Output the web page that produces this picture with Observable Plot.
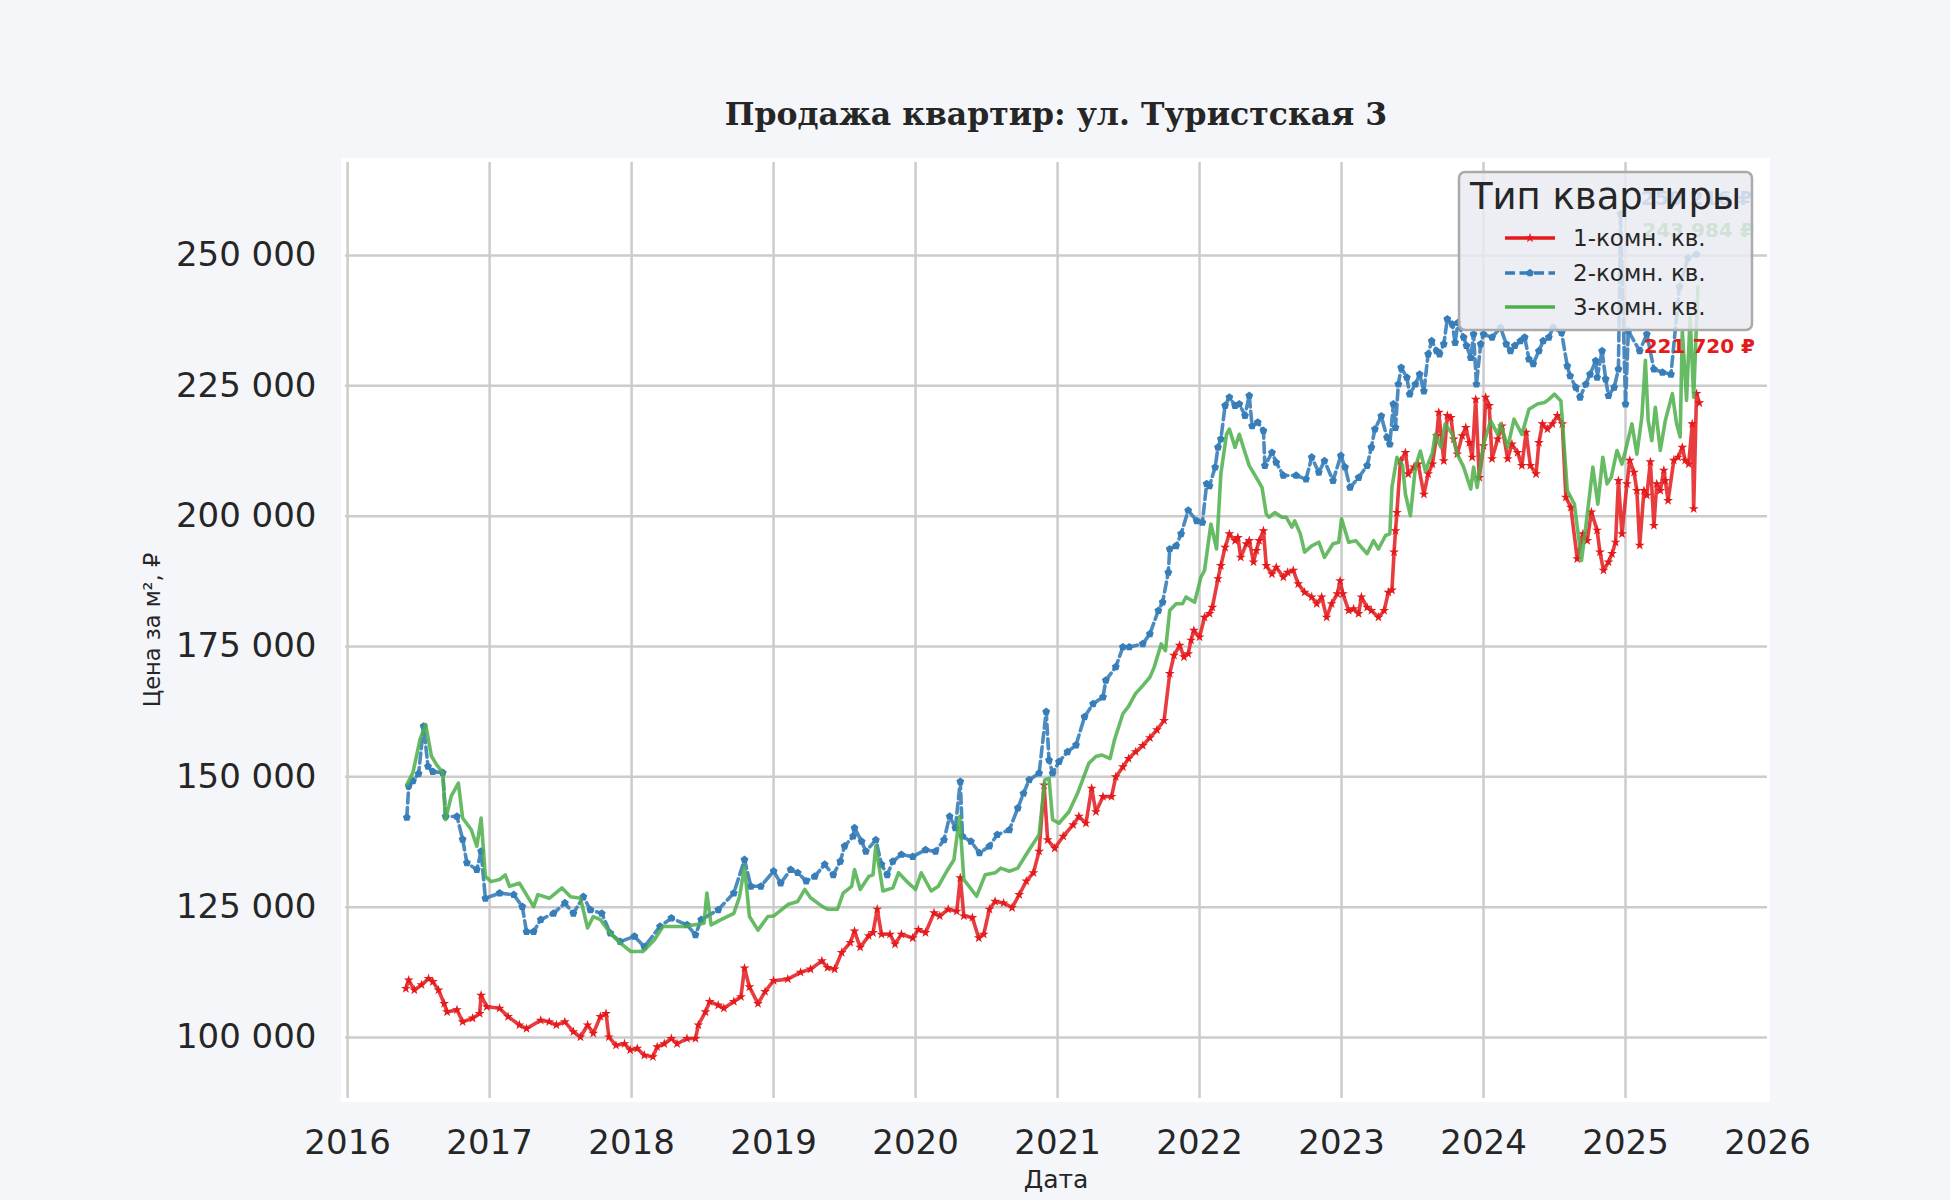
<!DOCTYPE html>
<html><head><meta charset="utf-8">
<script src="https://cdn.jsdelivr.net/npm/d3@7"></script>
<script src="https://cdn.jsdelivr.net/npm/@observablehq/plot@0.6"></script>
<style>
html,body{margin:0;padding:0;background:#f5f6fa;}
#fig{position:relative;width:1950px;height:1200px;background:#f5f6fa;font-family:"DejaVu Sans";overflow:hidden;}
#panel{position:absolute;left:341px;top:158px;width:1429px;height:944px;background:#ffffff;}
#chart{position:absolute;left:0;top:0;}
#overlay{position:absolute;left:0;top:0;}
</style></head>
<body><div id="fig"><div id="panel"></div><div id="chart"></div><svg id="overlay" width="1950" height="1200"></svg></div>
<script>
// ---------- texts ----------
const titleText = "Продажа квартир: ул. Туристская 3";
const xLabel = "Дата";
const yLabel = "Цена за м², ₽";
const legendTitle = "Тип квартиры";
const seriesNames = ["1-комн. кв.", "2-комн. кв.", "3-комн. кв."];
const seriesColors = ["#e41a1c", "#377eb8", "#4daf4a"];
const xTicks = [2016, 2017, 2018, 2019, 2020, 2021, 2022, 2023, 2024, 2025, 2026];
const yTicks = [100000, 125000, 150000, 175000, 200000, 225000, 250000];

// ---------- 1-комн. кв. ----------
const years1 = [2016.41,2016.43,2016.47,2016.52,2016.57,2016.60,2016.64,2016.68,2016.70,2016.77,2016.81,2016.88,2016.93,2016.94,2016.98,
2017.07,2017.13,2017.21,2017.26,2017.36,2017.42,2017.47,2017.53,2017.59,2017.64,2017.69,2017.73,2017.78,2017.82,2017.84,2017.89,2017.95,2017.99,
2018.04,2018.09,2018.15,2018.18,2018.23,2018.28,2018.32,2018.39,2018.45,2018.47,2018.52,2018.55,2018.61,2018.65,2018.72,2018.77,2018.795,2018.83,2018.89,2018.94,
2019.00,2019.10,2019.19,2019.26,2019.34,2019.38,2019.43,2019.48,2019.54,2019.57,2019.61,2019.67,2019.70,2019.73,2019.76,2019.82,2019.855,2019.90,2019.98,
2020.02,2020.07,2020.13,2020.17,2020.23,2020.29,2020.315,2020.34,2020.40,2020.445,2020.48,2020.52,2020.56,2020.62,2020.68,2020.73,2020.78,2020.83,2020.87,2020.905,2020.93,2020.98,
2021.04,2021.11,2021.15,2021.20,2021.24,2021.27,2021.32,2021.38,2021.41,2021.46,2021.50,2021.55,2021.60,2021.65,2021.70,2021.75,2021.79,2021.82,2021.86,2021.89,2021.92,2021.94,2021.96,
2022.00,2022.035,2022.07,2022.09,2022.13,2022.15,2022.18,2022.21,2022.25,2022.27,2022.29,2022.33,2022.35,2022.38,2022.40,2022.42,2022.45,2022.47,2022.51,2022.54,2022.59,2022.62,2022.66,2022.695,2022.74,2022.79,2022.825,2022.86,2022.895,2022.93,2022.97,2022.99,
2023.01,2023.05,2023.085,2023.12,2023.14,2023.18,2023.21,2023.26,2023.30,2023.33,2023.355,2023.37,2023.38,2023.39,2023.415,2023.45,2023.47,2023.51,2023.54,2023.58,2023.61,2023.64,2023.67,2023.685,2023.72,2023.745,2023.77,2023.79,2023.815,2023.85,2023.875,2023.90,2023.92,2023.945,2023.97,
2024.00,2024.015,2024.04,2024.06,2024.10,2024.13,2024.17,2024.20,2024.24,2024.27,2024.30,2024.33,2024.37,2024.39,2024.415,2024.45,2024.485,2024.52,2024.555,2024.58,2024.615,2024.66,2024.70,2024.73,2024.76,2024.80,2024.82,2024.845,2024.88,2024.905,2024.93,2024.95,2024.975,
2025.01,2025.03,2025.06,2025.08,2025.10,2025.13,2025.15,2025.175,2025.20,2025.22,2025.245,2025.27,2025.28,2025.30,2025.34,2025.37,2025.40,2025.42,2025.445,2025.47,2025.48,2025.50,2025.52];
const price1 = [109400,111000,109100,110100,111300,110700,109100,106500,104900,105300,103000,103700,104600,108100,105900,
105600,104000,102400,101700,103300,103000,102400,103000,101100,100100,102400,100800,104000,104600,100100,98500,98800,97600,
97900,96600,96300,98200,98800,99800,98800,99800,99800,102400,104900,106900,106200,105600,106900,107800,113300,109700,106500,108800,
110900,111200,112500,113100,114700,113400,113100,116300,118200,120400,117300,119500,120100,124600,119800,119800,117900,119800,119100,
120700,120100,123900,123300,124600,124200,130600,123300,123000,119100,119800,124600,126100,125800,124900,127400,130000,131600,135700,148400,137900,136300,
138600,140800,142400,141100,147800,143300,146200,146200,150000,151900,153500,154800,156000,157500,159000,160800,169800,173300,175200,173000,173600,176200,178100,
176800,180600,181300,182500,188000,190500,194000,196600,195300,195900,192100,194700,195300,191200,193400,195300,197200,190500,188900,190200,188300,189200,189600,187000,185400,184500,183200,184500,180600,183200,185100,187600,
185100,181900,182200,181300,184500,182500,181900,180600,181900,185400,185800,193100,197200,200700,210600,212200,208100,209400,210000,204200,208100,210000,215400,219900,210600,219300,218900,214800,211900,215400,217000,214100,211300,222400,207400,
213500,222800,221200,211000,214800,217300,211000,213800,212200,209700,216100,209700,208100,214100,217700,216700,217700,219300,217700,203600,201700,191800,196600,195300,200800,197300,193100,189600,191200,192800,195000,206800,196600,
206200,210700,208400,204900,194400,204900,204000,210400,198200,206200,204900,208800,206800,203000,210700,211300,213200,210700,210000,217700,201400,223500,221720];

// ---------- 2-комн. кв. ----------
const years2 = [2016.417,2016.43,2016.46,2016.50,2016.535,2016.566,2016.60,2016.67,2016.69,2016.77,2016.81,2016.84,2016.91,2016.94,2016.97,
2017.07,2017.17,2017.23,2017.26,2017.31,2017.36,2017.45,2017.53,2017.59,2017.66,2017.71,2017.79,2017.85,2017.92,
2018.02,2018.09,2018.20,2018.28,2018.39,2018.45,2018.49,2018.61,2018.72,2018.795,2018.84,2018.91,
2019.00,2019.05,2019.12,2019.17,2019.23,2019.29,2019.36,2019.42,2019.47,2019.50,2019.56,2019.57,2019.62,2019.65,2019.72,2019.76,2019.80,2019.84,2019.90,2019.98,
2020.07,2020.14,2020.20,2020.24,2020.28,2020.315,2020.33,2020.39,2020.45,2020.52,2020.575,2020.66,2020.72,2020.76,2020.80,2020.87,2020.92,2020.94,2020.965,
2021.01,2021.07,2021.13,2021.19,2021.25,2021.32,2021.34,2021.41,2021.46,2021.505,2021.60,2021.65,2021.71,2021.74,2021.78,2021.79,2021.835,2021.87,2021.92,2021.98,
2022.02,2022.05,2022.07,2022.11,2022.13,2022.15,2022.18,2022.21,2022.25,2022.28,2022.32,2022.35,2022.37,2022.41,2022.45,2022.46,2022.51,2022.54,2022.59,2022.68,2022.75,2022.79,2022.84,2022.88,2022.94,2022.995,
2023.025,2023.06,2023.12,2023.18,2023.21,2023.235,2023.28,2023.32,2023.34,2023.365,2023.38,2023.40,2023.42,2023.46,2023.48,2023.52,2023.55,2023.58,2023.61,2023.635,2023.67,2023.69,2023.72,2023.745,2023.78,2023.80,2023.82,2023.86,2023.88,2023.91,2023.93,2023.95,2023.98,
2024.00,2024.06,2024.12,2024.16,2024.19,2024.22,2024.26,2024.29,2024.32,2024.35,2024.39,2024.42,2024.46,2024.49,2024.55,2024.59,2024.61,2024.65,2024.68,2024.72,2024.75,2024.79,2024.80,2024.835,2024.86,2024.88,2024.92,2024.95,2024.965,
2025.00,2025.02,2025.10,2025.15,2025.20,2025.26,2025.32,2025.38,2025.44,2025.50];
const price2 = [142200,148200,149200,150600,159700,152000,151000,150800,142400,142400,138000,133500,132200,135700,126700,
127700,127400,125100,120300,120300,122600,123800,125800,123800,127000,124500,123800,120000,118400,
119400,117400,121300,122900,121600,119700,122600,124500,127700,134100,129000,129000,
131900,129600,132200,131600,130000,130900,133200,131200,133800,136700,138600,140200,137600,135700,137900,133200,131200,133800,135100,134700,
136000,135700,137900,142400,140200,149100,138600,137600,135400,136700,138900,139800,144000,146800,149400,150700,162500,153200,150700,
152900,154800,156100,161500,164000,165300,168500,171100,174900,174900,175500,177400,181900,183500,189200,193700,194300,196600,201100,199100,
198800,206200,205800,209400,213200,214800,221200,222800,221200,221500,219300,223100,217300,218000,216400,209700,212200,210300,207800,207800,207100,211300,208400,210600,206800,211600,
209400,205500,207400,209700,213200,216700,219200,215100,213800,221500,217000,225300,228500,226600,223400,225300,227200,224000,231100,233600,231700,231100,233000,237800,236800,233300,237100,234300,232700,230400,234900,225300,233000,
234900,234300,236200,233000,231700,232700,233600,234300,230100,229200,231700,233600,234300,236200,235200,228800,226900,224700,222800,225300,227200,229800,226600,231700,226300,223100,224700,228200,258000,
221500,235500,231700,234900,228200,227600,227200,244000,249500,250216];

// ---------- 3-комн. кв. ----------
const years3 = [2016.417,2016.46,2016.51,2016.55,2016.59,2016.625,2016.67,2016.69,2016.73,2016.78,2016.81,2016.87,2016.91,2016.94,2016.97,
2017.01,2017.07,2017.11,2017.14,2017.21,2017.31,2017.34,2017.42,2017.51,2017.57,2017.64,2017.69,2017.73,2017.78,2017.85,2017.92,2017.995,
2018.08,2018.16,2018.22,2018.37,2018.51,2018.53,2018.56,2018.63,2018.72,2018.76,2018.795,2018.83,2018.89,2018.96,
2019.00,2019.10,2019.17,2019.22,2019.26,2019.34,2019.38,2019.45,2019.49,2019.55,2019.57,2019.61,2019.67,2019.70,2019.72,2019.77,2019.84,2019.88,2019.95,
2020.00,2020.04,2020.11,2020.16,2020.22,2020.27,2020.31,2020.34,2020.43,2020.49,2020.56,2020.60,2020.66,2020.72,2020.80,2020.87,2020.91,2020.94,2020.965,
2021.01,2021.08,2021.14,2021.22,2021.27,2021.31,2021.37,2021.40,2021.46,2021.50,2021.55,2021.60,2021.65,2021.68,2021.73,2021.76,2021.79,2021.835,2021.88,2021.905,2021.965,
2022.01,2022.035,2022.08,2022.12,2022.15,2022.19,2022.21,2022.25,2022.28,2022.32,2022.35,2022.40,2022.44,2022.47,2022.49,2022.53,2022.58,2022.61,2022.65,2022.67,2022.71,2022.74,2022.79,2022.84,2022.88,2022.94,2022.98,
2023.00,2023.05,2023.10,2023.18,2023.225,2023.26,2023.31,2023.34,2023.355,2023.39,2023.43,2023.45,2023.485,2023.52,2023.555,2023.59,2023.64,2023.66,2023.70,2023.73,2023.78,2023.815,2023.86,2023.91,2023.93,2023.955,
2024.00,2024.05,2024.10,2024.12,2024.17,2024.215,2024.27,2024.32,2024.38,2024.43,2024.46,2024.50,2024.545,2024.59,2024.64,2024.69,2024.72,2024.77,2024.805,2024.84,2024.87,2024.90,2024.94,2024.975,
2025.00,2025.045,2025.08,2025.115,2025.14,2025.16,2025.185,2025.21,2025.245,2025.28,2025.33,2025.36,2025.385,2025.40,2025.43,2025.455,2025.48,2025.51];
const price3 = [148500,150800,157200,160000,154000,152400,150800,141800,146300,148800,142100,139900,136700,142100,130900,
129900,130300,131200,129000,129600,125100,127400,126700,128700,127000,126700,121000,123200,122600,120000,118100,116500,
116500,118700,121300,121300,121900,127700,121600,122600,123800,127000,132800,123200,120600,123200,
123300,125500,126100,128400,126800,125200,124600,124600,127700,129000,132200,128400,130900,131200,136700,128100,128700,131600,129600,
128400,131600,128100,129000,131900,134100,142400,130300,127100,131200,131600,132500,131900,132500,136000,138900,149400,149700,141800,
141100,143300,146800,152600,153900,154200,153500,157000,162100,163500,166000,167500,169100,171000,175500,174200,181900,183200,183200,184500,183500,
188300,189600,198500,193700,208100,215700,216700,213200,215700,212200,209700,207400,205500,200400,199800,200700,199800,199800,197900,199100,196600,193100,194300,195000,192100,194700,195000,
199500,195000,195300,192800,195300,193700,196300,196600,205500,211300,209700,204200,200100,209400,212500,208700,212200,215700,213200,217700,215700,211900,209400,205200,209400,205500,
213800,218300,215700,217700,213200,218600,215700,220500,221500,221800,222400,223400,222100,204900,202300,191500,197900,209400,202300,211300,206200,207500,212600,210000,
212600,217700,211900,219000,229900,218300,214500,220900,212600,218300,223500,217700,215200,235600,222200,238200,222800,243984];

// ---------- build ----------
const toRows = (xs, ys) => xs.map((x, i) => ({x, y: ys[i]}));
const rows1 = toRows(years1, price1);
const rows2 = toRows(years2, price2);
const rows3 = toRows(years3, price3);
const fmtNum = v => d3.format(",")(Math.round(v)).replace(/,/g, " ");
const lastOf = r => [r[r.length - 1]];

// pentagon marker (matplotlib "p")
const pentagon = {
  draw(ctx, size) {
    const R = Math.sqrt(size / 2.3776);
    for (let i = 0; i < 5; i++) {
      const a = -Math.PI / 2 + i * 2 * Math.PI / 5;
      const px = R * Math.cos(a), py = R * Math.sin(a);
      if (i) ctx.lineTo(px, py); else ctx.moveTo(px, py);
    }
    ctx.closePath();
  }
};

const GRID = "#cccccc";
const chart = Plot.plot({
  width: 1950, height: 1200,
  marginLeft: 345, marginRight: 183, marginTop: 162, marginBottom: 102,
  style: {background: "transparent", fontFamily: "DejaVu Sans", fontSize: "34px", color: "#262626", overflow: "visible"},
  x: {domain: [2015.985, 2026]},
  y: {domain: [88300, 267840]},
  marks: [
    Plot.gridX(xTicks.slice(0, -1), {stroke: GRID, strokeOpacity: 1, strokeWidth: 2.5}),
    Plot.gridY(yTicks, {stroke: GRID, strokeOpacity: 1, strokeWidth: 2.5}),
    Plot.axisX(xTicks, {tickSize: 0, tickPadding: 31, label: null, tickFormat: d => String(d), fill: "#262626"}),
    Plot.axisY(yTicks, {tickSize: 0, tickPadding: 29, label: null, tickFormat: fmtNum, fill: "#262626"}),
    Plot.line(rows1, {x: "x", y: "y", stroke: seriesColors[0], strokeWidth: 3.6, strokeOpacity: 0.85}),
    Plot.dot(rows1, {x: "x", y: "y", symbol: "star", fill: seriesColors[0], r: 3.1}),
    Plot.line(rows2, {x: "x", y: "y", stroke: seriesColors[1], strokeWidth: 3.6, strokeOpacity: 0.9, strokeDasharray: "10,4.5"}),
    Plot.dot(rows2, {x: "x", y: "y", symbol: pentagon, fill: seriesColors[1], r: 3.6}),
    Plot.line(rows3, {x: "x", y: "y", stroke: seriesColors[2], strokeWidth: 3.6, strokeOpacity: 0.85}),
    Plot.text(lastOf(rows1), {x: "x", y: "y", text: d => fmtNum(d.y) + " ₽", dy: -56, fill: seriesColors[0], fontWeight: "bold", fontSize: 20}),
    Plot.text(lastOf(rows2), {x: "x", y: "y", text: d => fmtNum(d.y) + " ₽", dy: -56, fill: seriesColors[1], fontWeight: "bold", fontSize: 20}),
    Plot.text(lastOf(rows3), {x: "x", y: "y", text: d => fmtNum(d.y) + " ₽", dy: -56, fill: seriesColors[2], fontWeight: "bold", fontSize: 20})
  ]
});
document.getElementById("chart").appendChild(chart);

// ---------- overlay: title, axis labels, legend ----------
const ov = d3.select("#overlay");
ov.append("text").attr("x", 1056).attr("y", 125).attr("text-anchor", "middle")
  .attr("font-family", "DejaVu Serif").attr("font-weight", "bold").attr("font-size", 31.5)
  .attr("fill", "#262626").text(titleText);
ov.append("text").attr("x", 1056).attr("y", 1179).attr("text-anchor", "middle").attr("dominant-baseline", "central")
  .attr("font-family", "DejaVu Sans").attr("font-size", 25).attr("fill", "#262626").text(xLabel);
ov.append("text").attr("transform", "translate(152,630) rotate(-90)").attr("text-anchor", "middle").attr("dominant-baseline", "central")
  .attr("font-family", "DejaVu Sans").attr("font-size", 22.5).attr("fill", "#262626").text(yLabel);

const lg = ov.append("g").attr("transform", "translate(1459,172)");
lg.append("rect").attr("x", 0).attr("y", 0).attr("width", 293).attr("height", 158).attr("rx", 6)
  .attr("fill", "#e9ebf2").attr("fill-opacity", 0.84).attr("stroke", "#aaaaaa").attr("stroke-width", 2.5);
lg.append("text").attr("x", 146.5).attr("y", 24).attr("text-anchor", "middle").attr("dominant-baseline", "central")
  .attr("font-family", "DejaVu Sans").attr("font-size", 37).attr("fill", "#262626").text(legendTitle);
const rowY = [66, 101, 135];
const dashes = [null, "10,4.5", null];
const syms = [d3.symbol(d3.symbolStar, Math.PI * 3.1 * 3.1)(), d3.symbol(pentagon, Math.PI * 3.6 * 3.6)(), null];
seriesNames.forEach((name, i) => {
  const g = lg.append("g").attr("transform", `translate(0,${rowY[i]})`);
  g.append("line").attr("x1", 46).attr("x2", 96).attr("y1", 0).attr("y2", 0)
    .attr("stroke", seriesColors[i]).attr("stroke-width", 3.6).attr("stroke-dasharray", dashes[i]);
  if (syms[i]) g.append("path").attr("d", syms[i]).attr("transform", "translate(71,0)").attr("fill", seriesColors[i]);
  g.append("text").attr("x", 114).attr("y", 0).attr("dominant-baseline", "central")
    .attr("font-family", "DejaVu Sans").attr("font-size", 23).attr("fill", "#262626").text(name);
});
</script></body></html>
